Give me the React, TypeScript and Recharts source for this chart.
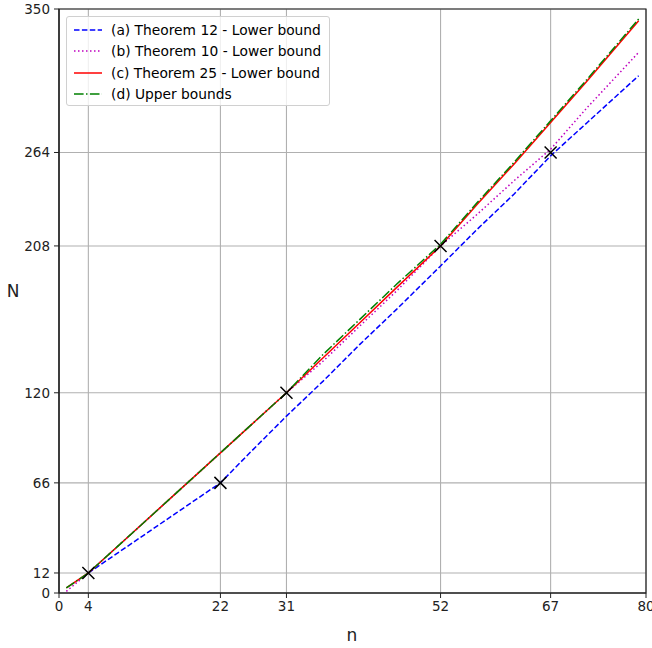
import React from "react"
import { ComposedChart, Line, Scatter, XAxis, YAxis, CartesianGrid, ReferenceArea } from "recharts"

// sample points along n
const nValues = [1, 4, 10, 16, 22, 26, 31, 36, 41, 46, 52, 57, 62, 67, 72, 79]
const theorem12 = [null, 12, 30, 48, 66, 84, 106, 127, 149, 170, 196, 218, 239, 262, 282, 310]
const theorem10 = [1, 12, 36, 60, 84, 100, 120, 139, 160, 181, 208, 227, 247, 266, 291, 324]
const theorem25 = [3, 12, 36, 60, 84, 100, 120, 141, 162, 183, 208, 233, 257, 282, 307, 343]
const upperBounds = [3, 12, 36, 60, 84, 100, 120, 143, 164, 185, 209, 234, 258, 283, 308, 344]

// marked points (x markers)
const markN = [4, 22, 31, 52, 67]
const markValues = [12, 66, 120, 208, 264]

const xTicks = [0, 4, 22, 31, 52, 67, 80]
const yTicks = [0, 12, 66, 120, 208, 264, 350]

const font = "'DejaVu Sans', sans-serif"

const data = nValues.map((n, i) => ({
  n,
  a: theorem12[i],
  b: theorem10[i],
  c: theorem25[i],
  d: upperBounds[i],
}))

const marks = markN.map((n, i) => ({ n, N: markValues[i] }))

const series = [
  { key: "a", name: "(a) Theorem 12 - Lower bound", color: "#0000ff", dash: "5.5 2.4" },
  { key: "b", name: "(b) Theorem 10 - Lower bound", color: "#bf00bf", dash: "1.5 2.5" },
  { key: "c", name: "(c) Theorem 25 - Lower bound", color: "#ff0000", dash: undefined },
  { key: "d", name: "(d) Upper bounds", color: "#008000", dash: "9.6 2.4 1.5 2.4" },
]

const XMark = (props: any) => {
  const { cx, cy } = props
  const s = 6
  return (
    <path
      d={`M${cx - s},${cy - s}L${cx + s},${cy + s}M${cx - s},${cy + s}L${cx + s},${cy - s}`}
      stroke="#000"
      strokeWidth={1.5}
      fill="none"
    />
  )
}

const LegendBox = () => (
  <div
    style={{
      position: "absolute",
      left: 66,
      top: 16,
      width: 264,
      height: 90,
      boxSizing: "border-box",
      border: "1px solid #d0d0d0",
      borderRadius: 3,
      background: "rgba(255,255,255,0.8)",
      padding: "2px 6px",
      fontFamily: font,
      fontSize: 13.8,
      color: "#000",
    }}
  >
    {series.map((s) => (
      <div key={s.key} style={{ display: "flex", alignItems: "center", height: 21.5 }}>
        <svg width={30} height={10} style={{ marginRight: 8 }}>
          <line x1={1} y1={5} x2={29} y2={5} stroke={s.color} strokeWidth={1.5} strokeDasharray={s.dash} />
        </svg>
        <span>{s.name}</span>
      </div>
    ))}
  </div>
)

export default function App() {
  return (
    <div style={{ position: "absolute", left: 0, top: 0, width: 652, height: 648, background: "#fff" }}>
      <ComposedChart
        width={652}
        height={648}
        data={data}
        margin={{ top: 9, right: 6, bottom: 0, left: 0 }}
      >
        <CartesianGrid stroke="#b0b0b0" strokeWidth={1.1} />
        <XAxis
          dataKey="n"
          type="number"
          domain={[0, 80]}
          ticks={xTicks}
          interval={0}
          height={55}
          tickSize={5}
          tickMargin={3}
          axisLine={{ stroke: "#222", strokeWidth: 1.2 }}
          tickLine={{ stroke: "#222" }}
          tick={{ fill: "#222", fontFamily: font, fontSize: 13.5 }}
          label={() => (
            <text x={352} y={641} textAnchor="middle" fontFamily={font} fontSize={17} fill="#222">
              n
            </text>
          )}
        />
        <YAxis
          type="number"
          domain={[0, 350]}
          ticks={yTicks}
          interval={0}
          width={59}
          tickSize={5}
          tickMargin={4}
          axisLine={{ stroke: "#222", strokeWidth: 1.2 }}
          tickLine={{ stroke: "#222" }}
          tick={{ fill: "#222", fontFamily: font, fontSize: 13.5 }}
          label={() => (
            <text x={13} y={297} textAnchor="middle" fontFamily={font} fontSize={17} fill="#222">
              N
            </text>
          )}
        />
        <ReferenceArea x1={0} x2={80} y1={0} y2={350} fill="none" stroke="#222" strokeWidth={1.2} />
        {series.map((s) => (
          <Line
            key={s.key}
            dataKey={s.key}
            name={s.name}
            type="linear"
            stroke={s.color}
            strokeWidth={1.5}
            strokeDasharray={s.dash}
            dot={false}
            activeDot={false}
            isAnimationActive={false}
          />
        ))}
        <Scatter data={marks} dataKey="N" shape={<XMark />} isAnimationActive={false} legendType="none" />
      </ComposedChart>
      <LegendBox />
    </div>
  )
}
